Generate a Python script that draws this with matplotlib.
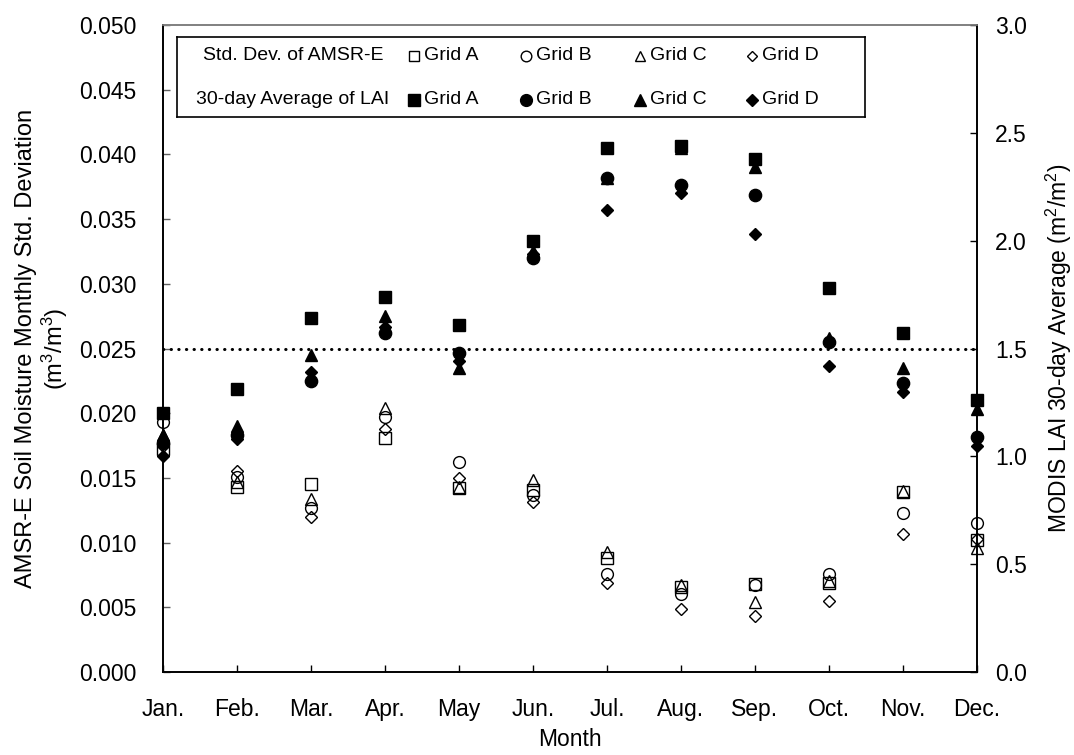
import numpy as np
import matplotlib
matplotlib.use('Agg')
import matplotlib.pyplot as plt
from matplotlib.ticker import FormatStrFormatter, MultipleLocator

plt.rcParams['font.family'] = ['Liberation Sans', 'DejaVu Sans']
plt.rcParams['mathtext.fontset'] = 'custom'
plt.rcParams['mathtext.rm'] = 'Liberation Sans'
plt.rcParams['mathtext.it'] = 'Liberation Sans:italic'
plt.rcParams['mathtext.bf'] = 'Liberation Sans:bold'

# month labels
months = ['Jan.', 'Feb.', 'Mar.', 'Apr.', 'May', 'Jun.', 'Jul.', 'Aug.',
          'Sep.', 'Oct.', 'Nov.', 'Dec.']

# AMSR-E soil moisture monthly std. deviation (m3/m3), open markers
sd_a = [0.0172, 0.0143, 0.01455, 0.0181, 0.0142, 0.0141, 0.0088, 0.0066, 0.0068, 0.0069, 0.0139, 0.0102]
sd_b = [0.0193, 0.0151, 0.0127, 0.0197, 0.0162, 0.0137, 0.0076, 0.0060, 0.0067, 0.0076, 0.0123, 0.0115]
sd_c = [0.0183, 0.0147, 0.0134, 0.0204, 0.0143, 0.0148, 0.0093, 0.0067, 0.0054, 0.0070, 0.0140, 0.0096]
sd_d = [0.0175, 0.0155, 0.0120, 0.0188, 0.0150, 0.0131, 0.0069, 0.0049, 0.0043, 0.0055, 0.0107, 0.0103]

# MODIS LAI 30-day average (m2/m2), filled markers
lai_a = [1.20, 1.31, 1.64, 1.74, 1.61, 2.00, 2.43, 2.44, 2.38, 1.78, 1.57, 1.26]
lai_b = [1.06, 1.10, 1.35, 1.57, 1.48, 1.92, 2.29, 2.26, 2.21, 1.53, 1.34, 1.09]
lai_c = [1.10, 1.14, 1.47, 1.65, 1.41, 1.95, 2.29, 2.43, 2.34, 1.55, 1.41, 1.22]
lai_d = [1.00, 1.08, 1.39, 1.60, 1.44, 1.94, 2.14, 2.22, 2.03, 1.42, 1.30, 1.05]

grid_names = ['Grid A', 'Grid B', 'Grid C', 'Grid D']
sd_series = [sd_a, sd_b, sd_c, sd_d]
lai_series = [lai_a, lai_b, lai_c, lai_d]
markers = ['s', 'o', '^', 'D']
sizes = [8, 8.5, 8.5, 6]

W, H = 1074, 755
fig = plt.figure(figsize=(W / 100, H / 100), dpi=100)
ax = fig.add_axes([163 / W, 1 - 672 / H, (977 - 163) / W, (672 - 25) / H])
ax2 = ax.twinx()

x = np.arange(len(months))

for vals, m, s in zip(sd_series, markers, sizes):
    ax.plot(x, vals, linestyle='none', marker=m, ms=s, mfc='none',
            mec='black', mew=1.0, clip_on=False)

ax.axhline(0.025, color='black', lw=2.2, linestyle=(0, (0.1, 2.4)),
           dash_capstyle='round')

for vals, m, s in zip(lai_series, markers, sizes):
    ax2.plot(x, vals, linestyle='none', marker=m, ms=s * 1.04, color='black',
             clip_on=False)

ax.set_xlim(0, len(months) - 1)
ax.set_ylim(0, 0.05)
ax2.set_ylim(0, 3.0)
ax.yaxis.set_major_locator(MultipleLocator(0.005))
ax.yaxis.set_major_formatter(FormatStrFormatter('%.3f'))
ax2.yaxis.set_major_locator(MultipleLocator(0.5))
ax2.yaxis.set_major_formatter(FormatStrFormatter('%.1f'))
ax.set_xticks(x)
ax.set_xticklabels(months)

fs = 16.5
ax.tick_params(axis='x', direction='in', length=5, width=1, labelsize=fs, pad=19)
ax.tick_params(axis='y', direction='in', length=5, width=1, labelsize=fs, pad=19,
               color='#606060')
ax2.tick_params(axis='y', direction='in', length=5, width=1, labelsize=fs, pad=13)

for a in (ax, ax2):
    a.spines['top'].set_color('#808080')
    a.spines['top'].set_linewidth(1.2)
    a.spines['left'].set_linewidth(1.2)
    a.spines['right'].set_linewidth(1.2)
    a.spines['bottom'].set_linewidth(1.2)

ax.set_xlabel('Month', fontsize=fs, labelpad=5)
ax.set_ylabel('AMSR-E Soil Moisture Monthly Std. Deviation\n(m$^3$/m$^3$)',
              fontsize=17, labelpad=7, linespacing=1.1)
ax2.set_ylabel('MODIS LAI 30-day Average (m$^2$/m$^2$)', fontsize=fs, labelpad=12)

# legend box drawn by hand
lx0, lx1, ly0, ly1 = 177, 865, 37, 117
leg = fig.add_axes([lx0 / W, 1 - ly1 / H, (lx1 - lx0) / W, (ly1 - ly0) / H])
leg.set_xlim(lx0, lx1)
leg.set_ylim(ly1, ly0)
leg.set_xticks([])
leg.set_yticks([])
for sp in leg.spines.values():
    sp.set_linewidth(1.2)
    sp.set_color('black')

lfs = 14
row_y = [56, 100]
leg.text(293, row_y[0], 'Std. Dev. of AMSR-E', fontsize=lfs, ha='center', va='center')
leg.text(293, row_y[1], '30-day Average of LAI', fontsize=lfs, ha='center', va='center')
for mx, name, m, s in zip([414, 526, 640, 752], grid_names, markers, sizes):
    leg.plot([mx], [row_y[0]], linestyle='none', marker=m, ms=s * 0.9, mfc='none',
             mec='black', mew=1.0)
    leg.plot([mx], [row_y[1]], linestyle='none', marker=m, ms=s, color='black')
    leg.text(mx + 10, row_y[0], name, fontsize=lfs, ha='left', va='center')
    leg.text(mx + 10, row_y[1], name, fontsize=lfs, ha='left', va='center')

fig.savefig('out.png', dpi=100)
